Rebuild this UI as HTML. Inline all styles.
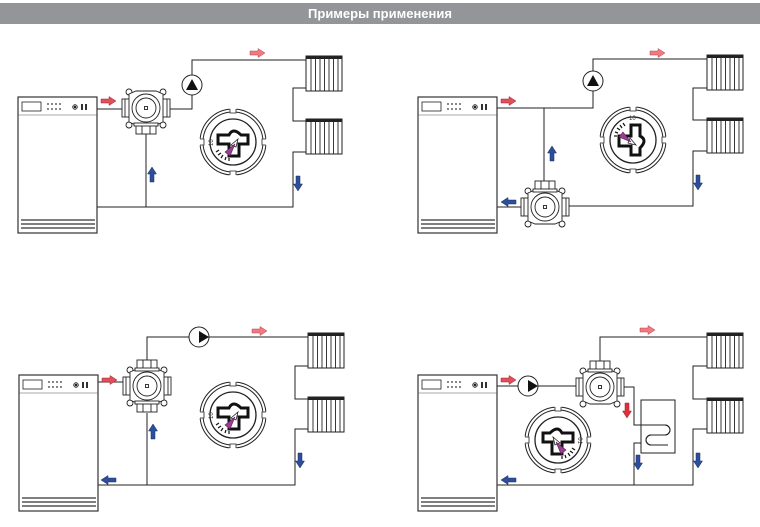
<!DOCTYPE html>
<html><head><meta charset="utf-8"><style>
html,body{margin:0;padding:0;background:#fff;width:760px;height:527px;overflow:hidden}
.t{position:absolute;left:0;top:3px;width:760px;height:21px;background:#939598;color:#fff;font:bold 13px "Liberation Sans",sans-serif;text-align:center;line-height:21px}
svg{position:absolute;left:0;top:0}
</style></head><body>
<div class="t">Примеры применения</div>
<svg width="760" height="527" viewBox="0 0 760 527" fill="none" stroke="#222" stroke-width="1">
<defs>
<g id="boiler">
<rect x="0" y="0" width="79" height="136" fill="#fff" stroke="#333" stroke-width="1.2"/>
<line x1="0" y1="18" x2="79" y2="18" stroke="#555" stroke-width="0.6"/>
<rect x="4" y="5" width="19" height="9" stroke-width="0.8"/>
<g fill="#333" stroke="none"><circle cx="30" cy="7" r="0.9"/><circle cx="34" cy="7" r="0.9"/><circle cx="38" cy="7" r="0.9"/><circle cx="42" cy="7" r="0.9"/><circle cx="30" cy="12" r="0.9"/><circle cx="34" cy="12" r="0.9"/><circle cx="38" cy="12" r="0.9"/><circle cx="42" cy="12" r="0.9"/>
<rect x="63" y="7" width="2" height="6"/><rect x="67" y="7" width="2" height="6"/></g>
<circle cx="57" cy="10" r="2.3" stroke-width="0.8"/><circle cx="57" cy="10" r="0.9" fill="#333"/>
<g stroke="#555" stroke-width="1.6"><line x1="3" y1="123" x2="77" y2="123"/><line x1="3" y1="127" x2="77" y2="127"/><line x1="3" y1="131" x2="77" y2="131"/></g>
</g>
<g id="rad">
<rect x="0" y="0" width="36" height="35" fill="#fff" stroke-width="1"/>
<rect x="0" y="0" width="36" height="3" fill="#222" stroke="none"/>
<g stroke-width="0.9"><line x1="5" y1="3" x2="5" y2="35"/><line x1="9.5" y1="3" x2="9.5" y2="35"/><line x1="14" y1="3" x2="14" y2="35"/><line x1="18.5" y1="3" x2="18.5" y2="35"/><line x1="23" y1="3" x2="23" y2="35"/><line x1="27.5" y1="3" x2="27.5" y2="35"/><line x1="32" y1="3" x2="32" y2="35"/></g>
</g>
<g id="valve" fill="#fff" stroke-width="0.9">
<rect x="-24" y="-9" width="8" height="18"/><line x1="-21" y1="-9" x2="-21" y2="9"/>
<rect x="16" y="-9" width="8" height="18"/><line x1="21" y1="-9" x2="21" y2="9"/>
<circle cx="-17" cy="-16" r="3"/><circle cx="17" cy="-16" r="3"/><circle cx="-17" cy="17" r="3"/><circle cx="17" cy="17" r="3"/>
<path d="M-17,-14 L-10,-17 L10,-17 L17,-14 L17,14 L10,17 L-10,17 L-17,14 Z"/>
<circle r="14"/><circle r="10"/><rect x="-1.5" y="-1.5" width="3" height="3"/>
</g>
<g id="pb" fill="#fff" stroke-width="0.9"><rect x="-10" y="17" width="20" height="9"/><line x1="-4" y1="17" x2="-4" y2="26"/><line x1="4" y1="17" x2="4" y2="26"/><rect x="-12" y="15" width="24" height="3"/></g>
<g id="dial" fill="#fff">
<circle r="33" stroke-width="1"/><circle r="30" stroke-width="1"/>
<g fill="#fff" stroke="#fff"><rect x="-3" y="-35" width="6" height="7"/><rect x="-3" y="28" width="6" height="7"/><rect x="-35" y="-3" width="7" height="6"/><rect x="28" y="-3" width="7" height="6"/></g>
<g stroke-width="0.8"><path d="M-3,-33 v4 h6 v-4"/><path d="M-3,33 v-4 h6 v4"/><path d="M-33,-3 h4 v6 h-4"/><path d="M33,-3 h-4 v6 h4"/></g>
<circle r="23" stroke-width="1.3"/>
<path d="M-15,-7 H-4 Q0,-15 8,-7 H15 V2 H6 V14 H-4 V2 H-15 Z" fill="#fff" stroke="#111" stroke-width="3"/>
<path d="M-2,3 L5,-3 L3,5 Z" stroke-width="0.8"/>
<path d="M-8,10 L2,2 L-3,14 Z" fill="#9a3c8f" stroke="#5a1e55" stroke-width="0.6"/>
<g stroke-width="1.2" stroke="#111"><line x1="-17" y1="10" x2="-14" y2="8"/><line x1="-15" y1="13" x2="-12" y2="11"/><line x1="-12" y1="16" x2="-10" y2="13"/><line x1="-8" y1="18" x2="-7" y2="15"/><line x1="-4" y1="19" x2="-4" y2="16"/></g>
<text x="-20" y="4" font-family="Liberation Sans,sans-serif" font-size="6" fill="#333" stroke="none" transform="rotate(-90 -20 4)">10</text>
</g>
<path id="ar" d="M0,-2 H8 V-4.5 L15,0 L8,4.5 V2 H0 Z"/>
</defs>

<!-- Panel 1 -->
<g>
<path d="M97,109 H122 M170,109 H192 V95 M192,75 V60 H306 M306,88 H293 V121 H306 M306,152 H293 V207 H97 M146,134 V207"/>
<use href="#valve" x="146" y="108"/><use href="#pb" x="146" y="108"/>
<circle cx="192" cy="85" r="10" fill="#fff"/><path d="M186,90 L192,79 L198,90 Z" fill="#111" stroke="none"/>
<use href="#rad" x="306" y="56"/><use href="#rad" x="306" y="119"/>
<use href="#boiler" x="18" y="97"/>
<use href="#dial" x="233" y="142"/>
<use href="#ar" x="101" y="101" fill="#e0505a" stroke="#a02030" stroke-width="0.5"/>
<use href="#ar" x="250" y="53" fill="#f07a80" stroke="#b04050" stroke-width="0.5"/>
<use href="#ar" transform="translate(152,182) rotate(-90)" fill="#2c4f9c" stroke="#1a2d60" stroke-width="0.5"/>
<use href="#ar" transform="translate(298,176) rotate(90)" fill="#2c4f9c" stroke="#1a2d60" stroke-width="0.5"/>
</g>

<!-- Panel 2 -->
<g>
<path d="M496,108 H593 V91 M593,71 V59 H707 M707,88 H693 V120 H707 M707,151 H693 V206 H569 M544,108 V181 M521,207 H496"/>
<use href="#valve" x="545" y="207"/><use href="#pb" transform="translate(545,207) rotate(180)"/>
<circle cx="593" cy="81" r="10" fill="#fff"/><path d="M587,86 L593,75 L599,86 Z" fill="#111" stroke="none"/>
<use href="#rad" x="707" y="55"/><use href="#rad" x="707" y="118"/>
<use href="#boiler" x="418" y="97"/>
<use href="#dial" transform="translate(633,140) rotate(90)"/>
<use href="#ar" x="501" y="101" fill="#e0505a" stroke="#a02030" stroke-width="0.5"/>
<use href="#ar" x="650" y="53" fill="#f07a80" stroke="#b04050" stroke-width="0.5"/>
<use href="#ar" transform="translate(552,161) rotate(-90)" fill="#2c4f9c" stroke="#1a2d60" stroke-width="0.5"/>
<use href="#ar" transform="translate(698,175) rotate(90)" fill="#2c4f9c" stroke="#1a2d60" stroke-width="0.5"/>
<use href="#ar" transform="translate(516,202) rotate(180)" fill="#2c4f9c" stroke="#1a2d60" stroke-width="0.5"/>
</g>

<!-- Panel 3 -->
<g>
<path d="M98,382 H123 M147,360 V337 H189 M209,337 H308 M308,366 H295 V399 H308 M308,429 H295 V485 H98 M147,413 V485"/>
<use href="#valve" x="147" y="386"/><use href="#pb" x="147" y="386"/><use href="#pb" transform="translate(147,386) rotate(180)"/>
<circle cx="199" cy="337" r="10" fill="#fff"/><path d="M199,331 L209,337 L199,343 Z" fill="#111" stroke="none"/>
<use href="#rad" x="308" y="333"/><use href="#rad" x="308" y="397"/>
<use href="#boiler" x="19" y="375"/>
<use href="#dial" x="233" y="415"/>
<use href="#ar" x="102" y="380" fill="#e0505a" stroke="#a02030" stroke-width="0.5"/>
<use href="#ar" x="252" y="331" fill="#f07a80" stroke="#b04050" stroke-width="0.5"/>
<use href="#ar" transform="translate(153,439) rotate(-90)" fill="#2c4f9c" stroke="#1a2d60" stroke-width="0.5"/>
<use href="#ar" transform="translate(300,453) rotate(90)" fill="#2c4f9c" stroke="#1a2d60" stroke-width="0.5"/>
<use href="#ar" transform="translate(116,480) rotate(180)" fill="#2c4f9c" stroke="#1a2d60" stroke-width="0.5"/>
</g>

<!-- Panel 4 -->
<g>
<path d="M497,386 H518 M538,386 H576 M600,362 V337 H707 M707,366 H693 V399 H707 M707,429 H693 V485 H497 M624,387 H634 V425 H665 A5,5 0 0 1 665,435 H651 A5,5 0 0 0 651,445 H668 M641,443 H634 V485"/>
<rect x="641" y="400" width="34" height="53" fill="none" stroke-width="1"/>
<path d="M634,425 H665 A5,5 0 0 1 665,435 H651 A5,5 0 0 0 651,445 H664" stroke-width="1"/>
<use href="#valve" x="600" y="387"/><use href="#pb" transform="translate(600,387) rotate(180)"/>
<circle cx="528" cy="386" r="10" fill="#fff"/><path d="M528,380 L538,386 L528,392 Z" fill="#111" stroke="none"/>
<use href="#rad" x="707" y="333"/><use href="#rad" x="707" y="398"/>
<use href="#boiler" x="418" y="375"/>
<use href="#dial" transform="translate(558,440) scale(-1,1)"/>
<use href="#ar" x="501" y="380" fill="#e0505a" stroke="#a02030" stroke-width="0.5"/>
<use href="#ar" x="640" y="330" fill="#f07a80" stroke="#b04050" stroke-width="0.5"/>
<use href="#ar" transform="translate(627,403) rotate(90)" fill="#e0303a" stroke="#a02030" stroke-width="0.5"/>
<use href="#ar" transform="translate(638,455) rotate(90)" fill="#2c4f9c" stroke="#1a2d60" stroke-width="0.5"/>
<use href="#ar" transform="translate(698,453) rotate(90)" fill="#2c4f9c" stroke="#1a2d60" stroke-width="0.5"/>
<use href="#ar" transform="translate(516,480) rotate(180)" fill="#2c4f9c" stroke="#1a2d60" stroke-width="0.5"/>
</g>
</svg>
</body></html>
